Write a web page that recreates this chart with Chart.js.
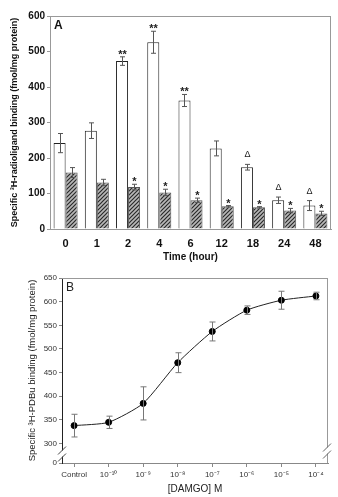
<!DOCTYPE html>
<html lang="en">
<head>
<meta charset="UTF-8">
<title>Binding time course and DAMGO dose response</title>
<script src="https://cdn.jsdelivr.net/npm/chart.js"></script>
<style>
  html, body { margin: 0; padding: 0; background: #fff; }
  #wrap { position: relative; width: 338px; height: 497px; }
  canvas { position: absolute; left: 0; }
  #chartA { top: 0; }
  #chartB { top: 265px; }
</style>
</head>
<body>
<div id="wrap">
  <canvas id="chartA" width="338" height="268"></canvas>
  <canvas id="chartB" width="338" height="232"></canvas>
</div>
<script>
// Panel A: binding over time
const hours = ['0', '1', '2', '4', '6', '12', '18', '24', '48'];
const openBars = [242, 277, 473, 526, 362, 227, 174, 81, 66];
const openErr = [27, 22, 12, 31, 17, 21, 8, 9, 14];
const hatchBars = [159, 131, 118, 103, 81, 64, 61, 52, 44];
const hatchErr = [14, 9, 8, 9, 6, 2, 2, 6, 6];
const openMarks = ['', '', '**', '**', '**', '', '\u0394', '\u0394', '\u0394'];
const hatchMarks = ['', '', '*', '*', '*', '*', '*', '*', '*'];

// Panel B: DAMGO concentration response
const doses = ['Control', '10\u207B\u00B9\u2070', '10\u207B\u2079', '10\u207B\u2078', '10\u207B\u2077', '10\u207B\u2076', '10\u207B\u2075', '10\u207B\u2074'];
const pdbu = [338, 345, 385, 471, 537, 582, 603, 612];
const pdbuErr = [24, 13, 35, 21, 20, 9, 19, 8];
const yTicksB = [300, 350, 400, 450, 500, 550, 600, 650];
const axisFloorB = 259; // value shown as "0" below the axis break

const FONT = 'Arial, "Liberation Sans", sans-serif';
Chart.defaults.font.family = FONT;
Chart.defaults.color = '#222';

function hatchPattern() {
  const c = document.createElement('canvas');
  c.width = 4; c.height = 4;
  const g = c.getContext('2d');
  g.fillStyle = '#b8b8b8';
  g.fillRect(0, 0, 4, 4);
  g.strokeStyle = '#2a2a2a';
  g.lineWidth = 1.2;
  g.beginPath();
  g.moveTo(0, 4); g.lineTo(4, 0);
  g.moveTo(-1, 1); g.lineTo(1, -1);
  g.moveTo(3, 5); g.lineTo(5, 3);
  g.stroke();
  return g.createPattern(c, 'repeat');
}

// error bars + significance marks, read from dataset.err / dataset.marks
const errorBars = {
  id: 'errorBars',
  afterDatasetsDraw(chart, args, opts) {
    const ctx = chart.ctx;
    const y = chart.scales.y;
    chart.data.datasets.forEach((ds, i) => {
      if (!ds.err) return;
      chart.getDatasetMeta(i).data.forEach((el, j) => {
        const d = ds.data[j];
        const v = typeof d === 'object' ? d.y : d;
        const top = y.getPixelForValue(v + ds.err[j]);
        const bot = y.getPixelForValue(v - ds.err[j]);
        ctx.save();
        ctx.strokeStyle = opts.color || '#555';
        ctx.lineWidth = 1;
        const x = Math.round(el.x) + 0.5;
        const w = opts.cap || 2.5;
        ctx.beginPath();
        ctx.moveTo(x, top); ctx.lineTo(x, bot);
        ctx.moveTo(x - w, top); ctx.lineTo(x + w, top);
        ctx.moveTo(x - w, bot); ctx.lineTo(x + w, bot);
        ctx.stroke();
        if (ds.marks && ds.marks[j]) {
          ctx.fillStyle = '#222';
          ctx.textAlign = 'center';
          const star = ds.marks[j].indexOf('*') >= 0;
          ctx.font = (star ? 'bold 11px ' : '9px ') + FONT;
          ctx.textBaseline = 'alphabetic';
          ctx.fillText(ds.marks[j], x, top - (star ? -1 : 7));
        }
        ctx.restore();
      });
    });
  }
};

const frameA = {
  id: 'frameA',
  afterDraw(chart) {
    const { ctx, chartArea: a } = chart;
    ctx.save();
    ctx.strokeStyle = '#999';
    ctx.lineWidth = 1;
    ctx.beginPath();
    ctx.moveTo(a.left, a.top + 0.5); ctx.lineTo(a.right, a.top + 0.5);
    ctx.moveTo(a.right - 0.5, a.top); ctx.lineTo(a.right - 0.5, a.bottom);
    ctx.stroke();
    ctx.fillStyle = '#111';
    ctx.font = 'bold 12px ' + FONT;
    ctx.textBaseline = 'middle';
    ctx.fillText('A', a.left + 4, a.top + 10);
    ctx.restore();
  }
};

new Chart(document.getElementById('chartA'), {
  type: 'bar',
  data: {
    labels: hours,
    datasets: [
      { data: openBars, err: openErr, marks: openMarks, backgroundColor: '#fff', borderColor: '#222', borderWidth: 1 },
      { data: hatchBars, err: hatchErr, marks: hatchMarks, backgroundColor: hatchPattern(), borderColor: '#555', borderWidth: 1 }
    ]
  },
  options: {
    responsive: false,
    animation: false,
    datasets: { bar: { categoryPercentage: 0.77, barPercentage: 1.0 } },
    layout: { padding: { top: 16, right: 7, left: 0, bottom: 0 } },
    plugins: { legend: { display: false }, tooltip: { enabled: false }, errorBars: { color: '#555', cap: 2.5 } },
    scales: {
      x: {
        grid: { display: false, drawTicks: false, tickLength: 0 },
        border: { color: '#999' },
        ticks: { font: { size: 11, weight: 'bold' }, color: '#111', padding: 8 },
        title: { display: true, text: 'Time (hour)', font: { size: 10, weight: 'bold' }, color: '#111', padding: { top: 0, bottom: 5 } },
        afterFit(s) { s.height = 39; }
      },
      y: {
        min: 0, max: 600,
        grid: { drawOnChartArea: false, tickLength: 3, color: '#999' },
        border: { color: '#999' },
        ticks: { stepSize: 100, font: { size: 10, weight: 'bold' }, color: '#111', padding: 2 },
        title: { display: true, text: 'Specific \u00B3H-radioligand binding (fmol/mg protein)', font: { size: 9, weight: 'bold' }, color: '#111', padding: { top: 9, bottom: 0 } },
        afterFit(s) { s.width = 50; }
      }
    }
  },
  plugins: [errorBars, frameA]
});

function slash(ctx, x, y) {
  ctx.beginPath();
  ctx.moveTo(x - 4, y + 4); ctx.lineTo(x + 4, y - 4);
  ctx.stroke();
}

const frameB = {
  id: 'frameB',
  afterDraw(chart) {
    const { ctx, chartArea: a } = chart;
    const y = chart.scales.y;
    const yb = y.getPixelForValue(axisFloorB + 20);
    ctx.save();
    ctx.strokeStyle = '#999';
    ctx.lineWidth = 1;
    ctx.beginPath();
    ctx.moveTo(a.left, a.top + 0.5); ctx.lineTo(a.right, a.top + 0.5);
    ctx.moveTo(a.right - 0.5, a.top); ctx.lineTo(a.right - 0.5, a.bottom);
    ctx.stroke();
    // axis breaks on both sides
    ctx.fillStyle = '#fff';
    ctx.fillRect(a.left - 2, yb - 3, 4, 6);
    ctx.fillRect(a.right - 3, yb - 6, 4, 6);
    ctx.strokeStyle = '#444';
    slash(ctx, a.left, yb - 3);
    slash(ctx, a.left, yb + 4);
    ctx.strokeStyle = '#666';
    slash(ctx, a.right - 1, yb - 6);
    slash(ctx, a.right - 1, yb + 1);
    ctx.fillStyle = '#222';
    ctx.font = '12px ' + FONT;
    ctx.textBaseline = 'middle';
    ctx.fillText('B', a.left + 4, a.top + 10);
    ctx.restore();
  }
};

new Chart(document.getElementById('chartB'), {
  type: 'line',
  data: {
    datasets: [{
      data: pdbu.map((v, i) => ({ x: i, y: v })),
      err: pdbuErr,
      borderColor: '#222', borderWidth: 1, tension: 0.2,
      pointRadius: 3, pointBackgroundColor: '#000', pointBorderColor: '#000'
    }]
  },
  options: {
    responsive: false,
    animation: false,
    layout: { padding: { top: 13, right: 10, left: 0, bottom: 0 } },
    plugins: { legend: { display: false }, tooltip: { enabled: false }, errorBars: { color: '#777', cap: 3 } },
    scales: {
      x: {
        type: 'linear', min: -0.35, max: 7.35,
        afterBuildTicks(s) { s.ticks = doses.map((d, i) => ({ value: i })); },
        grid: { drawOnChartArea: false, tickLength: 4, color: '#888' },
        border: { color: '#888' },
        ticks: { font: { size: 8 }, color: '#333', padding: 3, callback: v => doses[v] },
        title: { display: true, text: '[DAMGO] M', font: { size: 10 }, color: '#222', padding: { top: 2, bottom: 2 } },
        afterFit(s) { s.height = 34; }
      },
      y: {
        min: axisFloorB, max: 650,
        afterBuildTicks(s) { s.ticks = [axisFloorB].concat(yTicksB).map(v => ({ value: v })); },
        grid: { drawOnChartArea: false, tickLength: 3, color: '#888' },
        border: { color: '#222' },
        ticks: { font: { size: 8 }, color: '#333', padding: 2, callback: v => v === axisFloorB ? '0' : v },
        title: { display: true, text: 'Specific \u00B3H-PDBu binding (fmol/mg protein)', font: { size: 9.5 }, color: '#222', padding: { top: 27, bottom: 0 } },
        afterFit(s) { s.width = 62; }
      }
    }
  },
  plugins: [errorBars, frameB]
});
</script>
</body>
</html>
